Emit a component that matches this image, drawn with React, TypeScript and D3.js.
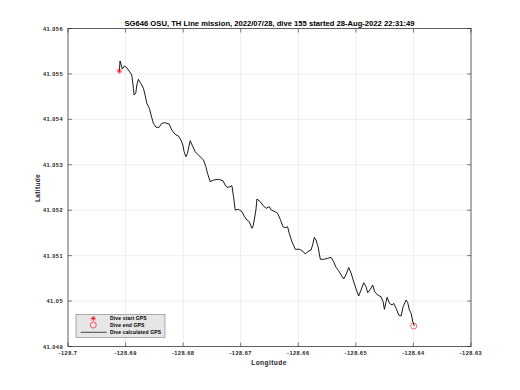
import React from "react";
import { scaleLinear, line } from "d3";

// dive track
const lons = [
  -128.69108, -128.69096, -128.69056, -128.69021, -128.68979, -128.68939, -128.68892, -128.68864,
  -128.68852, -128.68823, -128.68805, -128.68777, -128.68736, -128.6869, -128.68661, -128.68631,
  -128.68586, -128.68557, -128.68517, -128.6847, -128.68417, -128.6837, -128.68325, -128.68283,
  -128.68243, -128.68197, -128.68139, -128.68082, -128.6804, -128.68005, -128.67983, -128.67953,
  -128.67925, -128.67878, -128.67831, -128.67791, -128.67734, -128.67647, -128.67605, -128.67577,
  -128.6753, -128.67473, -128.67386, -128.6731, -128.6727, -128.6724, -128.67183, -128.67153,
  -128.67125, -128.67096, -128.67038, -128.66979, -128.66934, -128.66892, -128.66852, -128.66805,
  -128.66788, -128.66765, -128.66736, -128.66718, -128.66661, -128.66604, -128.66557, -128.66504,
  -128.6647, -128.664, -128.6636, -128.66313, -128.66266, -128.66226, -128.66186, -128.66157,
  -128.6611, -128.66052, -128.65977, -128.65925, -128.65878, -128.65838, -128.65779, -128.65751,
  -128.65722, -128.65692, -128.65657, -128.65617, -128.6556, -128.6549, -128.65431, -128.65386,
  -128.65344, -128.65299, -128.65257, -128.65212, -128.65165, -128.65125, -128.65083, -128.65038,
  -128.64991, -128.64951, -128.6491, -128.64864, -128.64823, -128.64795, -128.64748, -128.64708,
  -128.64673, -128.64621, -128.64562, -128.64527, -128.64504, -128.64475, -128.64457, -128.64417,
  -128.6437, -128.64343, -128.64301, -128.64256, -128.64214, -128.64179, -128.64127, -128.64099,
  -128.6407, -128.6404, -128.64012, -128.63983,
];
const lats = [
  41.055064, 41.055285, 41.055108, 41.055175, 41.055137, 41.055064, 41.054976, 41.054684,
  41.054536, 41.054574, 41.054756, 41.054882, 41.054794, 41.054684, 41.054536, 41.054353,
  41.054243, 41.054096, 41.053913, 41.053825, 41.053825, 41.053913, 41.053926, 41.053913,
  41.053898, 41.053766, 41.053671, 41.053634, 41.053546, 41.053435, 41.053288, 41.053178,
  41.053253, 41.05353, 41.053398, 41.053288, 41.053215, 41.053105, 41.052958, 41.052813,
  41.052628, 41.052665, 41.05268, 41.05265, 41.052555, 41.052504, 41.052518, 41.05254,
  41.052297, 41.052005, 41.05202, 41.051967, 41.051857, 41.051785, 41.051747, 41.051602,
  41.051637, 41.051785, 41.052005, 41.052247, 41.052187, 41.052093, 41.052042, 41.052077,
  41.052005, 41.051967, 41.051932, 41.0518, 41.051637, 41.051615, 41.051637, 41.051492,
  41.051307, 41.05114, 41.05114, 41.051102, 41.051036, 41.051087, 41.051124, 41.051234,
  41.051404, 41.051344, 41.051197, 41.050919, 41.050919, 41.050941, 41.050963, 41.050867,
  41.050743, 41.050668, 41.050574, 41.050486, 41.050596, 41.050739, 41.050618, 41.050426,
  41.050244, 41.050112, 41.050244, 41.050404, 41.050316, 41.050184, 41.050259, 41.050354,
  41.050206, 41.050134, 41.050096, 41.049986, 41.049819, 41.049986, 41.050083, 41.049951,
  41.049913, 41.049951, 41.049841, 41.049693, 41.049671, 41.049876, 41.050023, 41.049964,
  41.049803, 41.049731, 41.049546, 41.049451,
];
const startGps = [-128.69108, 41.055064];
const endGps = [-128.63995, 41.04945];

const xTicks = [-128.7, -128.69, -128.68, -128.67, -128.66, -128.65, -128.64, -128.63];
const yTicks = [41.049, 41.05, 41.051, 41.052, 41.053, 41.054, 41.055, 41.056];
const legendLabels = ["Dive start GPS", "Dive end GPS", "Dive calculated GPS"];

const title = "SG646 OSU, TH Line mission, 2022/07/28, dive 155 started 28-Aug-2022 22:31:49";

const W = 520, H = 390;
const m = { left: 68, right: 471, top: 28.5, bottom: 346.5 };
const font = "Liberation Sans, Arial, sans-serif";
const axisCol = "#262626";
const red = "#ff0000";

export default function App() {
  const x = scaleLinear().domain([-128.7, -128.63]).range([m.left, m.right]);
  const y = scaleLinear().domain([41.049, 41.056]).range([m.bottom, m.top]);

  const pts: [number, number][] = lons.map((d, i) => [d, lats[i]]);
  const path = line<[number, number]>()
    .x(d => x(d[0]))
    .y(d => y(d[1]))(pts) || "";

  const star = (cx: number, cy: number, r: number) => (
    <g stroke={red} strokeWidth={0.7}>
      <line x1={cx - r} x2={cx + r} y1={cy} y2={cy} />
      <line x1={cx} x2={cx} y1={cy - r} y2={cy + r} />
      <line x1={cx - r * 0.7} x2={cx + r * 0.7} y1={cy - r * 0.7} y2={cy + r * 0.7} />
      <line x1={cx - r * 0.7} x2={cx + r * 0.7} y1={cy + r * 0.7} y2={cy - r * 0.7} />
    </g>
  );

  const lx = 76, ly = 314.5, lw = 89, lh = 23;

  return (
    <svg width={W} height={H} style={{ position: "absolute", left: 0, top: 0, background: "#fff" }}
      fontFamily={font}>
      <rect width={W} height={H} fill="#fff" />
      {/* grid */}
      {xTicks.map(t => (
        <line key={"gx" + t} x1={x(t)} x2={x(t)} y1={m.top} y2={m.bottom} stroke="#e3e3e3" strokeWidth={0.6} />
      ))}
      {yTicks.map(t => (
        <line key={"gy" + t} x1={m.left} x2={m.right} y1={y(t)} y2={y(t)} stroke="#e3e3e3" strokeWidth={0.6} />
      ))}

      {/* track */}
      <path d={path} fill="none" stroke="#000" strokeWidth={0.9} />
      {star(x(startGps[0]), y(startGps[1]), 2.8)}
      <circle cx={x(endGps[0])} cy={y(endGps[1])} r={3} fill="none" stroke={red} strokeWidth={0.6} />

      {/* box + ticks */}
      <rect x={m.left} y={m.top} width={m.right - m.left} height={m.bottom - m.top} fill="none"
        stroke={axisCol} strokeWidth={0.7} />
      {xTicks.map(t => (
        <g key={"tx" + t}>
          <line x1={x(t)} x2={x(t)} y1={m.bottom} y2={m.bottom - 4} stroke={axisCol} strokeWidth={0.6} />
          <line x1={x(t)} x2={x(t)} y1={m.top} y2={m.top + 4} stroke={axisCol} strokeWidth={0.6} />
          <text x={x(t)} y={354.5} fontSize={5.6} fontWeight="bold" letterSpacing={0.5} textAnchor="middle"
            fill={axisCol}>{String(t)}</text>
        </g>
      ))}
      {yTicks.map(t => (
        <g key={"ty" + t}>
          <line x1={m.left} x2={m.left + 4} y1={y(t)} y2={y(t)} stroke={axisCol} strokeWidth={0.6} />
          <line x1={m.right} x2={m.right - 4} y1={y(t)} y2={y(t)} stroke={axisCol} strokeWidth={0.6} />
          <text x={63} y={y(t) + 2} fontSize={5.6} fontWeight="bold" letterSpacing={0.5} textAnchor="end"
            fill={axisCol}>{String(t)}</text>
        </g>
      ))}

      {/* labels */}
      <text x={(m.left + m.right) / 2} y={26} fontSize={6.6} fontWeight="bold" textAnchor="middle"
        fill="#000" textLength={290} lengthAdjust="spacingAndGlyphs">{title}</text>
      <text x={269} y={364.5} fontSize={6.6} fontWeight="bold" letterSpacing={0.4} textAnchor="middle"
        fill={axisCol}>Longitude</text>
      <text transform={`translate(39.5,188) rotate(-90)`} fontSize={6.6} fontWeight="bold" letterSpacing={0.3}
        textAnchor="middle" fill={axisCol}>Latitude</text>

      {/* legend */}
      <rect x={lx} y={ly} width={lw} height={lh} fill="#e6e6e6" stroke="#7a7a7a" strokeWidth={0.6} />
      {star(93.3, 318.5, 2.5)}
      <circle cx={93.3} cy={325} r={3} fill="none" stroke={red} strokeWidth={0.6} />
      <line x1={80.7} x2={106.7} y1={332.3} y2={332.3} stroke="#000" strokeWidth={0.7} />
      {legendLabels.map((s, i) => (
        <text key={s} x={110} y={320.3 + i * 7} fontSize={5} fontWeight="bold" letterSpacing={0.15}
          fill="#000">{s}</text>
      ))}
    </svg>
  );
}
